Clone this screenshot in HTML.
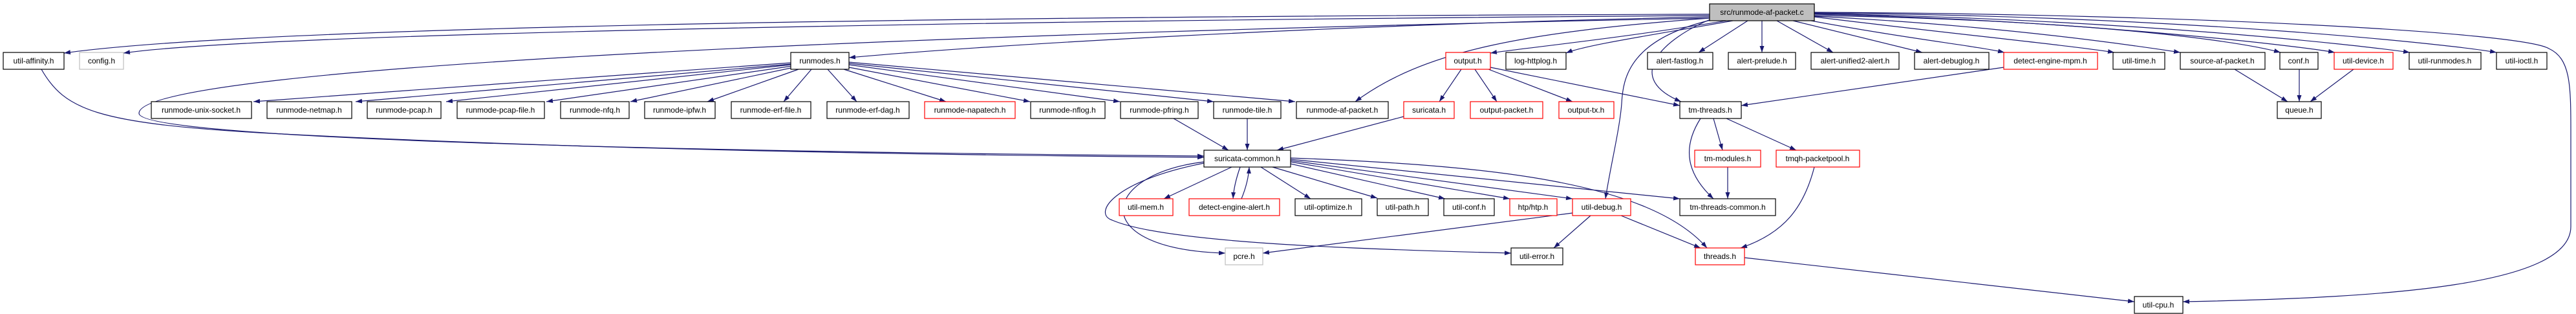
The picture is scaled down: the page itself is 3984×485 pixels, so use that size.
<!DOCTYPE html>
<html><head><meta charset="utf-8"><style>
html,body{margin:0;padding:0;background:#fff;}
svg{display:block;}
text{font-family:"Liberation Sans",sans-serif;font-size:12px;fill:#000;text-anchor:middle;}
.e{fill:none;stroke:#191970;stroke-width:1.2;marker-end:url(#a);}
.n{fill:#fff;stroke:#000;stroke-width:1.2;}
.r{fill:#fff;stroke:#f00;stroke-width:1.2;}
.g{fill:#fff;stroke:#bfbfbf;stroke-width:1.2;}
</style></head><body>
<svg width="3984" height="485" viewBox="0 0 3984 485" xmlns="http://www.w3.org/2000/svg">
<defs><marker id="a" markerWidth="10" markerHeight="7" refX="10" refY="3.5" orient="auto" markerUnits="userSpaceOnUse"><path d="M0,0 L10,3.5 L0,7 z" fill="#191970"/></marker></defs>
<g>
<path class="e" d="M2644,22 C1500,25 400,40 99,82"/>
<path class="e" d="M2644,24 C1500,32 400,52 191,82"/>
<path class="e" d="M2644,26 C2000,40 1500,72 1313,89"/>
<path class="e" d="M2644,28 C1500,50 215,100 215,175 C215,225 1500,238 1862,241"/>
<path class="e" d="M64,107 C100,170 150,190 400,205 C900,232 1500,240 1862,243"/>
<path class="e" d="M2644,28 C2350,50 2200,80 2096,157"/>
<path class="e" d="M2670,32 C2500,60 2350,75 2305,82"/>
<path class="e" d="M2680,32 C2550,55 2450,70 2422,82"/>
<path class="e" d="M2650,28 C2570,60 2510,120 2600,157"/>
<path class="e" d="M2650,30 C2520,60 2510,120 2508,160 C2505,200 2490,260 2483,307"/>
<path class="e" d="M2703,32 L2627,81"/>
<path class="e" d="M2725,32 L2725,81"/>
<path class="e" d="M2748,32 L2835,81"/>
<path class="e" d="M2773,32 L2973,81"/>
<path class="e" d="M2790,30 C2950,60 3050,70 3100,81"/>
<path class="e" d="M2806,26 C3000,50 3200,70 3270,81"/>
<path class="e" d="M2806,25 C3100,40 3300,70 3372,81"/>
<path class="e" d="M2806,24 C3200,30 3450,60 3527,81"/>
<path class="e" d="M2806,22 C3200,30 3550,70 3611,81"/>
<path class="e" d="M2806,21 C3300,30 3650,70 3727,81"/>
<path class="e" d="M2806,20 C3400,25 3800,70 3861,81"/>
<path class="e" d="M2806,19 C3400,22 3900,50 3942,75 C3975,90 3976,130 3976,200 L3976,350 C3976,440 3700,460 3376,466"/>
<path class="e" d="M1223,97 L392,157"/>
<path class="e" d="M1223,99 L550,157"/>
<path class="e" d="M1223,100 L690,157"/>
<path class="e" d="M1225,102 L845,157"/>
<path class="e" d="M1228,104 L975,157"/>
<path class="e" d="M1235,107 L1094,157"/>
<path class="e" d="M1255,107 L1212,157"/>
<path class="e" d="M1280,107 L1325,157"/>
<path class="e" d="M1305,107 L1463,157"/>
<path class="e" d="M1313,104 L1593,157"/>
<path class="e" d="M1313,100 L1732,157"/>
<path class="e" d="M1313,98 L1877,157"/>
<path class="e" d="M1313,96 L2003,157"/>
<path class="e" d="M1815,183 L1900,232"/>
<path class="e" d="M1929,183 L1929,232"/>
<path class="e" d="M2171,180 L1975,232"/>
<path class="e" d="M1905,258 L1800,307"/>
<path class="e" d="M1918,258 C1912,275 1908,290 1907,307"/>
<path class="e" d="M1920,307 C1927,290 1931,275 1932,258"/>
<path class="e" d="M1950,258 L2027,307"/>
<path class="e" d="M1968,258 L2130,306"/>
<path class="e" d="M1996,253 L2235,307"/>
<path class="e" d="M1996,250 L2335,307"/>
<path class="e" d="M1996,248 L2432,307"/>
<path class="e" d="M1996,246 L2598,307"/>
<path class="e" d="M1996,244 C2300,255 2550,280 2640,383"/>
<path class="e" d="M1862,250 C1700,270 1680,385 1895,391"/>
<path class="e" d="M1862,252 C1720,280 1690,330 1720,340 C1800,375 2100,385 2337,391"/>
<path class="e" d="M2432,329 C2200,360 2000,385 1953,391"/>
<path class="e" d="M2460,333 L2403,383"/>
<path class="e" d="M2507,333 L2630,383"/>
<path class="e" d="M2650,183 L2664,232"/>
<path class="e" d="M2670,183 L2778,232"/>
<path class="e" d="M2630,183 C2600,230 2610,270 2650,307"/>
<path class="e" d="M2672,258 L2672,307"/>
<path class="e" d="M2806,258 C2790,320 2760,360 2692,383"/>
<path class="e" d="M2698,398 L3301,466"/>
<path class="e" d="M2260,107 L2226,157"/>
<path class="e" d="M2281,107 L2315,157"/>
<path class="e" d="M2302,107 L2432,157"/>
<path class="e" d="M2305,104 L2598,163"/>
<path class="e" d="M3099,104 L2693,163"/>
<path class="e" d="M3456,107 L3538,157"/>
<path class="e" d="M3556,107 L3556,157"/>
<path class="e" d="M3640,107 L3573,157"/>
</g>
<g>
<rect x="2644" y="6" width="162" height="26" fill="#bfbfbf" stroke="#000" stroke-width="1.2"/><text x="2725" y="23">src/runmode-af-packet.c</text>
<rect class="n" x="5" y="81" width="94" height="26"/><text x="52" y="98">util-affinity.h</text>
<rect class="g" x="123" y="81" width="68" height="26"/><text x="157" y="98">config.h</text>
<rect class="n" x="1223" y="81" width="90" height="26"/><text x="1268" y="98">runmodes.h</text>
<rect class="r" x="2236" y="81" width="69" height="26"/><text x="2270" y="98">output.h</text>
<rect class="n" x="2329" y="81" width="93" height="26"/><text x="2375" y="98">log-httplog.h</text>
<rect class="n" x="2548" y="81" width="101" height="26"/><text x="2598" y="98">alert-fastlog.h</text>
<rect class="n" x="2673" y="81" width="104" height="26"/><text x="2725" y="98">alert-prelude.h</text>
<rect class="n" x="2801" y="81" width="136" height="26"/><text x="2869" y="98">alert-unified2-alert.h</text>
<rect class="n" x="2961" y="81" width="115" height="26"/><text x="3018" y="98">alert-debuglog.h</text>
<rect class="r" x="3099" y="81" width="145" height="26"/><text x="3171" y="98">detect-engine-mpm.h</text>
<rect class="n" x="3268" y="81" width="80" height="26"/><text x="3308" y="98">util-time.h</text>
<rect class="n" x="3372" y="81" width="131" height="26"/><text x="3437" y="98">source-af-packet.h</text>
<rect class="n" x="3526" y="81" width="59" height="26"/><text x="3555" y="98">conf.h</text>
<rect class="r" x="3610" y="81" width="91" height="26"/><text x="3655" y="98">util-device.h</text>
<rect class="n" x="3726" y="81" width="111" height="26"/><text x="3781" y="98">util-runmodes.h</text>
<rect class="n" x="3861" y="81" width="78" height="26"/><text x="3900" y="98">util-ioctl.h</text>

<rect class="n" x="234" y="157" width="155" height="26"/><text x="311" y="174">runmode-unix-socket.h</text>
<rect class="n" x="413" y="157" width="131" height="26"/><text x="478" y="174">runmode-netmap.h</text>
<rect class="n" x="568" y="157" width="114" height="26"/><text x="625" y="174">runmode-pcap.h</text>
<rect class="n" x="707" y="157" width="135" height="26"/><text x="774" y="174">runmode-pcap-file.h</text>
<rect class="n" x="867" y="157" width="106" height="26"/><text x="920" y="174">runmode-nfq.h</text>
<rect class="n" x="997" y="157" width="109" height="26"/><text x="1051" y="174">runmode-ipfw.h</text>
<rect class="n" x="1131" y="157" width="123" height="26"/><text x="1192" y="174">runmode-erf-file.h</text>
<rect class="n" x="1279" y="157" width="127" height="26"/><text x="1342" y="174">runmode-erf-dag.h</text>
<rect class="r" x="1430" y="157" width="140" height="26"/><text x="1500" y="174">runmode-napatech.h</text>
<rect class="n" x="1594" y="157" width="115" height="26"/><text x="1651" y="174">runmode-nflog.h</text>
<rect class="n" x="1733" y="157" width="120" height="26"/><text x="1793" y="174">runmode-pfring.h</text>
<rect class="n" x="1877" y="157" width="104" height="26"/><text x="1929" y="174">runmode-tile.h</text>
<rect class="n" x="2005" y="157" width="142" height="26"/><text x="2076" y="174">runmode-af-packet.h</text>
<rect class="r" x="2171" y="157" width="78" height="26"/><text x="2210" y="174">suricata.h</text>
<rect class="r" x="2274" y="157" width="112" height="26"/><text x="2330" y="174">output-packet.h</text>
<rect class="r" x="2411" y="157" width="85" height="26"/><text x="2453" y="174">output-tx.h</text>
<rect class="n" x="2598" y="157" width="95" height="26"/><text x="2645" y="174">tm-threads.h</text>
<rect class="n" x="3522" y="157" width="68" height="26"/><text x="3556" y="174">queue.h</text>

<rect class="n" x="1862" y="232" width="134" height="26"/><text x="1929" y="249">suricata-common.h</text>
<rect class="r" x="2621" y="232" width="102" height="26"/><text x="2672" y="249">tm-modules.h</text>
<rect class="r" x="2747" y="232" width="129" height="26"/><text x="2811" y="249">tmqh-packetpool.h</text>

<rect class="r" x="1731" y="307" width="83" height="26"/><text x="1772" y="324">util-mem.h</text>
<rect class="r" x="1839" y="307" width="140" height="26"/><text x="1909" y="324">detect-engine-alert.h</text>
<rect class="n" x="2003" y="307" width="103" height="26"/><text x="2054" y="324">util-optimize.h</text>
<rect class="n" x="2130" y="307" width="79" height="26"/><text x="2169" y="324">util-path.h</text>
<rect class="n" x="2233" y="307" width="78" height="26"/><text x="2272" y="324">util-conf.h</text>
<rect class="r" x="2335" y="307" width="73" height="26"/><text x="2371" y="324">htp/htp.h</text>
<rect class="r" x="2432" y="307" width="90" height="26"/><text x="2477" y="324">util-debug.h</text>
<rect class="n" x="2598" y="307" width="148" height="26"/><text x="2672" y="324">tm-threads-common.h</text>

<rect class="g" x="1895" y="383" width="58" height="26"/><text x="1924" y="400">pcre.h</text>
<rect class="n" x="2337" y="383" width="80" height="26"/><text x="2377" y="400">util-error.h</text>
<rect class="r" x="2622" y="383" width="76" height="26"/><text x="2660" y="400">threads.h</text>

<rect class="n" x="3301" y="458" width="75" height="26"/><text x="3338" y="475">util-cpu.h</text>
</g>
</svg>
</body></html>
